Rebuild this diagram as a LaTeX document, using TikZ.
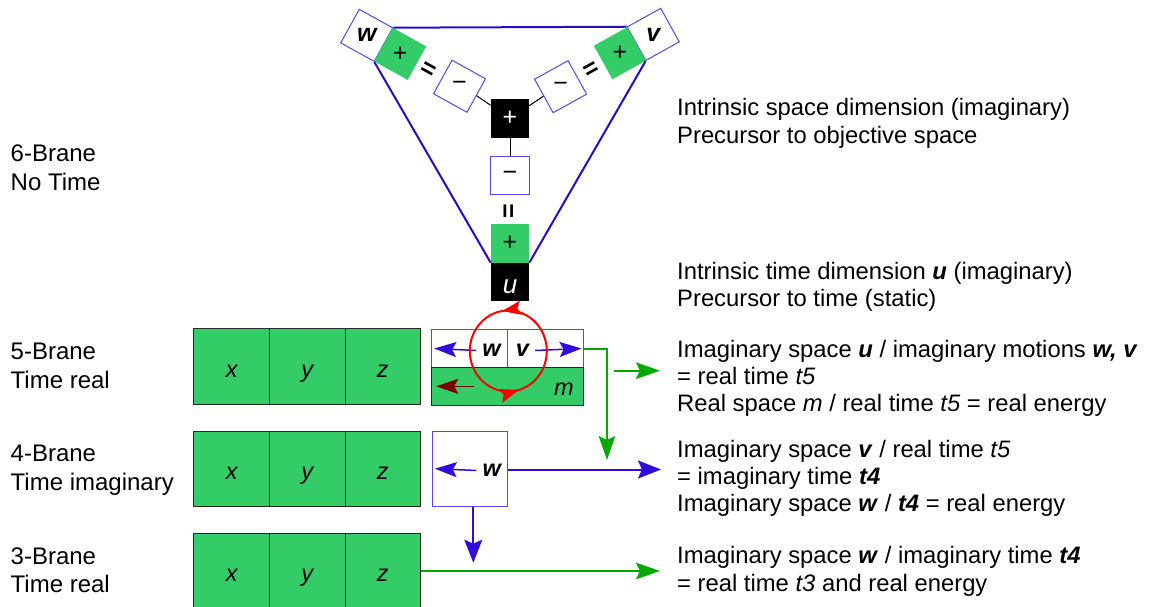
\documentclass[tikz,border=0pt]{standalone}
\usepackage{fontspec}
\setmainfont{Liberation Sans}
\usepackage{graphicx}
\usetikzlibrary{arrows.meta,decorations.markings}
\definecolor{bgreen}{RGB}{51,204,102}
\definecolor{tblue}{RGB}{40,10,200}
\definecolor{bblue}{RGB}{90,70,230}
\definecolor{ablue}{RGB}{50,10,220}
\definecolor{agreen}{RGB}{0,170,0}
\definecolor{dred}{RGB}{120,0,0}
\definecolor{cellline}{RGB}{40,40,40}
\newcommand\bix[1]{\textbf{\textit{#1}}}
\begin{document}
\begin{tikzpicture}[x=1pt,y=-1pt,
  rtxt/.style={font=\fontsize{23.8}{27.3}\selectfont, inner sep=0pt, anchor=base west, align=left},
  ltxt/.style={font=\fontsize{24}{28.4}\selectfont, inner sep=0pt, anchor=base west, align=left},
  cell/.style={draw=cellline, line width=1pt, fill=bgreen, minimum width=75.6pt, minimum height=75.4pt,
    inner sep=0pt, font=\fontsize{23.5}{27}\selectfont\itshape, text height=21pt, text depth=0pt},
  sq/.style={minimum size=38.3pt, inner sep=0pt, font=\fontsize{25}{27}\selectfont},
  wsq/.style={sq, draw=bblue, line width=1pt, fill=white},
  gsq/.style={sq, fill=bgreen},
  ksq/.style={sq, fill=black, text=white},
  eqs/.style={inner sep=0pt, font=\fontsize{25}{27}\selectfont\bfseries},
  lab/.style={inner sep=1pt, font=\fontsize{23.5}{27}\selectfont\bfseries\itshape},
  tri/.style={draw=tblue, line width=2pt},
  thin/.style={draw=black, line width=1pt},
  barrow/.style={draw=ablue, line width=2pt, -{Stealth[length=23pt,width=18pt,inset=4pt]}},
  ibarrow/.style={draw=ablue, line width=1.5pt, -{Stealth[length=22pt,width=15pt,inset=4pt]}},
  rarrow/.style={draw=dred, line width=1.5pt, -{Stealth[length=22pt,width=15pt,inset=4pt]}},
  garrow/.style={draw=agreen, line width=2pt, -{Stealth[length=24pt,width=16.5pt,inset=4pt]}},
  redtip/.style={red},
]
\useasboundingbox (0,0) rectangle (1151,607);

% ---- 6-brane triangle ----
\node[wsq, rotate=-29] (wbox) at (366.75,35.35) {\rotatebox{29}{\bfseries\itshape w}};
\node[gsq, rotate=-29] (wplus) at (400.25,53.85) {\rotatebox{29}{+}};
\node[eqs, rotate=-29] (weq) at (428.3,70.7) {=};
\node[wsq, rotate=-29] (wminus) at (459.5,86.25) {\rotatebox{29}{−}};

\node[wsq, rotate=29] (vbox) at (653.25,34.4) {\rotatebox{-29}{\bfseries\itshape v}};
\node[gsq, rotate=29] (vplus) at (619.9,53.2) {\rotatebox{-29}{+}};
\node[eqs, rotate=29] (veq) at (591.7,70) {=};
\node[wsq, rotate=29] (vminus) at (560.6,86.7) {\rotatebox{-29}{−}};

\node[ksq] (kplus) at (510,118.5) {+};
\node[wsq] (uminus) at (510,175.5) {−};
\node[eqs, rotate=90] (ueq) at (510,211.5) {=};
\node[gsq] (uplus) at (510,243.5) {+};
\node[ksq, font=\fontsize{26}{28}\selectfont\itshape, text height=22.8pt, text depth=0pt] (ubox) at (510,282) {u};

\draw[thin] (wminus.east) -- (kplus);
\draw[thin] (vminus.west) -- (kplus);
\draw[thin] (kplus.south) -- (uminus.north);

\draw[tri] (wbox.north east) -- (vbox.north west);
\draw[tri] (wbox.south east) -- (ubox.north west);
\draw[tri] (vbox.south west) -- (ubox.north east);

% ---- 5-brane ----
\node[cell] (x5) at (231.65,366.5) {x};
\node[cell] (y5) at (307.2,366.5) {y};
\node[cell] (z5) at (382.85,366.5) {z};

\node[sq, draw=bblue, line width=1pt, fill=white, minimum width=75.6pt, minimum height=38.4pt] (wc) at (469.5,348.5) {};
\node[sq, draw=bblue, line width=1pt, fill=white, minimum width=75.6pt, minimum height=38.4pt] (vc) at (545.3,348.5) {};
\node[sq, draw=cellline, line width=1pt, fill=bgreen, minimum width=151.6pt, minimum height=37.3pt] (mc) at (507.5,386.35) {};
\node[lab] (wl) at (491.5,350.5) {w};
\node[lab] (vl) at (522.5,350.5) {v};
\node[lab, font=\fontsize{23.5}{27}\selectfont\itshape] (ml) at (564,389) {m};

\draw[ibarrow] ([xshift=-5pt]wl.west) -- ([xshift=3pt]wc.west);
\draw[ibarrow] ([xshift=5pt]vl.east) -- ([xshift=-2pt]vc.east);
\draw[rarrow] ([xshift=43pt]mc.west) -- ([xshift=5pt]mc.west);

\coordinate (cc) at (508.3,351);
\draw[draw=red, line width=2pt,
  decoration={markings,
    mark=at position 0.275 with {\arrow{Stealth[length=19pt,width=14pt,inset=3.5pt]}},
    mark=at position 0.795 with {\arrow{Stealth[length=20pt,width=14pt,inset=3.5pt]}}},
  postaction={decorate}]
  ([xshift=38.5pt]cc) arc[start angle=0, end angle=360, x radius=38.5pt, y radius=40.5pt];

\coordinate (g5end) at (607,460);
\draw[garrow] (vc.east) -| (g5end);
\coordinate (gs1) at (614,370.7);
\coordinate (gs2) at (660,370.7);
\draw[garrow] (gs1) -- (gs2);

% ---- 4-brane ----
\node[cell] (x4) at (231.65,468.85) {x};
\node[cell] (y4) at (307.2,468.85) {y};
\node[cell] (z4) at (382.85,468.85) {z};
\node[sq, draw=bblue, line width=1pt, fill=white, minimum size=75.4pt] (w4) at (470,468.7) {};
\node[lab] (w4l) at (491.7,470.5) {w};
\draw[ibarrow] ([xshift=-5pt]w4l.west) -- ([xshift=3pt]w4.west);
\coordinate (b4end) at (661,469.5);
\draw[barrow] (w4.east |- b4end) -- (b4end);
\coordinate (b3end) at (473.3,562.7);
\draw[barrow] (w4.south -| b3end) -- (b3end);

% ---- 3-brane ----
\node[cell] (x3) at (231.65,571.15) {x};
\node[cell] (y3) at (307.2,571.15) {y};
\node[cell] (z3) at (382.85,571.15) {z};
\coordinate (g3end) at (660,571);
\draw[garrow] (z3.east |- g3end) -- (g3end);

% ---- left labels (anchored at the baseline of the last line) ----
\node[ltxt] (l6) at (10.5,190) {6-Brane\\No Time};
\node[ltxt] (l5) at (10.5,388.3) {5-Brane\\Time real};
\node[ltxt] (l4) at (10.5,490) {4-Brane\\Time imaginary};
\node[ltxt] (l3) at (10.5,592.5) {3-Brane\\Time real};

% ---- right texts (anchored at the baseline of the last line) ----
\node[rtxt] (r1) at (677,143.3) {Intrinsic space dimension (imaginary)\\Precursor to objective space};
\node[rtxt] (r2) at (677,306.7) {Intrinsic time dimension \bix{u} (imaginary)\\Precursor to time (static)};
\node[rtxt] (r3) at (677,411.7) {Imaginary space \bix{u} / imaginary motions \bix{w, v}\\= real time \textit{t5}\\Real space \textit{m} / real time \textit{t5} = real energy};
\node[rtxt] (r4) at (677,511.7) {Imaginary space \bix{v} / real time \textit{t5}\\= imaginary time \bix{t4}\\Imaginary space \bix{w} / \bix{t4} = real energy};
\node[rtxt] (r5) at (677,591) {Imaginary space \bix{w} / imaginary time \bix{t4}\\= real time \textit{t3} and real energy};
\end{tikzpicture}
\end{document}
